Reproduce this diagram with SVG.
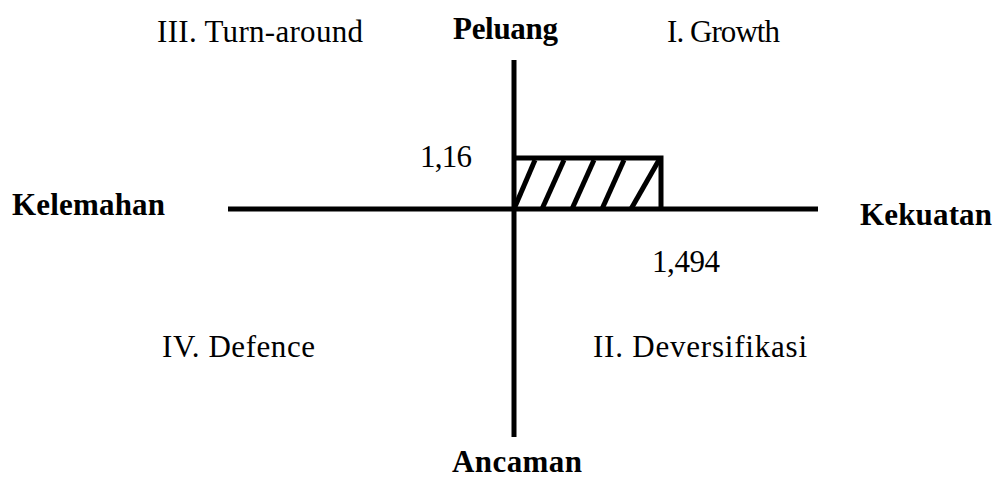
<svg xmlns="http://www.w3.org/2000/svg" width="994" height="481" viewBox="0 0 994 481">
<style>
.t{font-family:"Liberation Serif","Times New Roman",serif;font-size:31px;fill:#000}
.b{font-weight:bold}
.ax{stroke:#000;stroke-width:5;fill:none}
.h{stroke:#000;stroke-width:5;fill:none}
</style>
<rect width="994" height="481" fill="#fff"/>
<g id="connectors">
<line class="ax" x1="514" y1="60" x2="514" y2="437"/>
<line class="ax" x1="228" y1="209" x2="818" y2="209"/>
</g>
<g id="area">
<polyline class="ax" points="514,158 661,158 661,209"/>
<line class="h" x1="514" y1="209" x2="535" y2="160"/>
<line class="h" x1="542" y1="209" x2="564" y2="160"/>
<line class="h" x1="572" y1="209" x2="594" y2="160"/>
<line class="h" x1="602" y1="209" x2="624" y2="160"/>
<line class="h" x1="631" y1="209" x2="659" y2="160"/>
</g>
<g id="labels">
<text class="t" x="157" y="42" textLength="206">III. Turn-around</text>
<text class="t b" x="453" y="39" textLength="105">Peluang</text>
<text class="t" x="667" y="42" textLength="113">I. Growth</text>
<text class="t" x="420" y="167" textLength="52">1,16</text>
<text class="t b" x="12" y="215" textLength="153">Kelemahan</text>
<text class="t b" x="860" y="225" textLength="132">Kekuatan</text>
<text class="t" x="652" y="272" textLength="68">1,494</text>
<text class="t" x="162" y="357" textLength="153">IV. Defence</text>
<text class="t" x="593" y="357" textLength="214">II. Deversifikasi</text>
<text class="t b" x="452" y="472" textLength="130">Ancaman</text>
</g>
</svg>
